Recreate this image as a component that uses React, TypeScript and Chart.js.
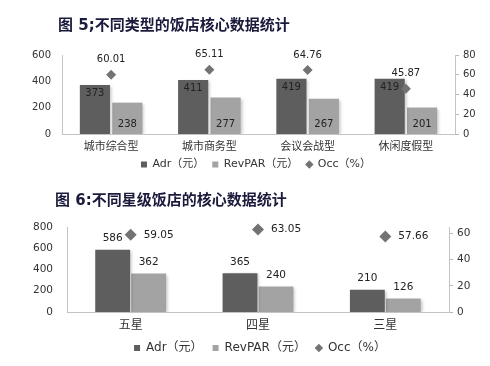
import React, { useEffect, useRef } from "react";
import { Chart, registerables } from "chart.js";

Chart.register(...registerables);

// ---- Chart 1 data ----
const title1 = "图 5;不同类型的饭店核心数据统计";
const categories1 = ["城市综合型", "城市商务型", "会议会战型", "休闲度假型"];
const adr1 = [373, 411, 419, 419];
const revpar1 = [238, 277, 267, 201];
const occ1 = [60.01, 65.11, 64.76, 45.87];

// ---- Chart 2 data ----
const title2 = "图 6:不同星级饭店的核心数据统计";
const categories2 = ["五星", "四星", "三星"];
const adr2 = [586, 365, 210];
const revpar2 = [362, 240, 126];
const occ2 = [59.05, 63.05, 57.66];

const seriesNames = ["Adr（元）", "RevPAR（元）", "Occ（%）"];

const ADR_COLOR = "#5e5e5e";
const REV_COLOR = "#a3a3a3";
const OCC_COLOR = "#737373";
const FONT = "'DejaVu Sans', 'Noto Sans CJK SC', sans-serif";

const shadowPlugin = {
  id: "barShadow",
  beforeDatasetDraw(chart: any, args: any) {
    const ctx = chart.ctx;
    ctx.save();
    if (chart.data.datasets[args.index].type === "bar") {
      ctx.shadowColor = "rgba(0,0,0,0.22)";
      ctx.shadowBlur = 3;
      ctx.shadowOffsetX = 2;
      ctx.shadowOffsetY = 1;
    }
  },
  afterDatasetDraw(chart: any) {
    chart.ctx.restore();
  },
};

function makeLabelPlugin(mode: number, fontSize: number) {
  return {
    id: "valueLabels",
    afterDatasetsDraw(chart: any) {
      const ctx = chart.ctx;
      ctx.save();
      ctx.font = `${fontSize}px ${FONT}`;
      ctx.fillStyle = "#222";
      ctx.textBaseline = "middle";
      chart.data.datasets.forEach((ds: any, di: number) => {
        const meta = chart.getDatasetMeta(di);
        meta.data.forEach((el: any, i: number) => {
          const v = ds.data[i];
          const txt = di === 2 ? v.toFixed(2) : String(v);
          if (mode === 1) {
            ctx.textAlign = "center";
            if (di === 0) ctx.fillText(txt, el.x, el.y + 9);
            else if (di === 1) ctx.fillText(txt, el.x, el.base - 10);
            else ctx.fillText(txt, el.x, el.y - 15);
          } else {
            if (di === 2) {
              ctx.textAlign = "left";
              ctx.fillText(txt, el.x + 13, el.y);
            } else {
              ctx.textAlign = "center";
              ctx.fillText(txt, el.x, el.y - 11);
            }
          }
        });
      });
      ctx.restore();
    },
  };
}

function legendLabels(chart: any) {
  const items = (Chart.defaults.plugins.legend.labels as any).generateLabels(chart);
  items.sort((a: any, b: any) => a.datasetIndex - b.datasetIndex);
  items.forEach((it: any) => {
    it.pointStyle = it.datasetIndex === 2 ? "rectRot" : "rect";
    it.lineWidth = 0;
    it.strokeStyle = "rgba(0,0,0,0)";
  });
  return items;
}

type Cfg = {
  categories: string[];
  adr: number[];
  rev: number[];
  occ: number[];
  mode: number;
  padLeft: number;
  leftW: number;
  rightW: number;
  top: number;
  bottomPad: number;
  xH: number;
  yMax: number;
  yStep: number;
  y2Max: number;
  y2Ticks: number[];
  catPct: number;
  barPct: number;
  pointR: number;
  leftPad: number;
  tickFont: number;
  catFont: number;
  legendFont: number;
  legendPad: number;
  labelFont: number;
};

function makeConfig(c: Cfg): any {
  return {
    data: {
      labels: c.categories,
      datasets: [
        {
          type: "bar",
          label: seriesNames[0],
          data: c.adr,
          backgroundColor: ADR_COLOR,
          yAxisID: "y",
          categoryPercentage: c.catPct,
          barPercentage: c.barPct,
          order: 2,
        },
        {
          type: "bar",
          label: seriesNames[1],
          data: c.rev,
          backgroundColor: REV_COLOR,
          yAxisID: "y",
          categoryPercentage: c.catPct,
          barPercentage: c.barPct,
          order: 2,
        },
        {
          type: "line",
          label: seriesNames[2],
          data: c.occ,
          showLine: false,
          clip: false,
          pointStyle: "rectRot",
          pointRadius: c.pointR,
          pointBackgroundColor: OCC_COLOR,
          pointBorderColor: OCC_COLOR,
          backgroundColor: OCC_COLOR,
          borderColor: OCC_COLOR,
          pointBorderWidth: 0,
          yAxisID: "y2",
          order: 1,
        },
      ],
    },
    options: {
      responsive: false,
      animation: false,
      layout: { padding: { top: c.top, bottom: c.bottomPad, left: c.padLeft, right: 0 } },
      plugins: {
        title: { display: false },
        tooltip: { enabled: false },
        legend: {
          position: "bottom",
          labels: {
            usePointStyle: true,
            boxWidth: 6,
            boxHeight: 6,
            padding: c.legendPad,
            color: "#333",
            font: { family: FONT, size: c.legendFont },
            generateLabels: legendLabels,
          },
        },
      },
      scales: {
        x: {
          grid: { display: false, drawTicks: false },
          border: { display: true, color: "#c4c4c4" },
          ticks: { color: "#333", padding: 7, font: { family: FONT, size: c.catFont } },
          afterFit(s: any) {
            s.height = c.xH;
          },
        },
        y: {
          position: "left",
          min: 0,
          max: c.yMax,
          grid: { display: false, drawTicks: false },
          border: { display: true, color: "#c4c4c4" },
          ticks: { stepSize: c.yStep, color: "#333", padding: c.leftPad, font: { family: FONT, size: c.tickFont } },
          afterFit(s: any) {
            s.width = c.leftW;
          },
        },
        y2: {
          position: "right",
          min: 0,
          max: c.y2Max,
          grid: { display: true, drawOnChartArea: false, drawTicks: true, tickLength: 4, color: "#b8b8b8" },
          border: { display: true, color: "#c4c4c4" },
          ticks: { color: "#333", padding: 4, font: { family: FONT, size: c.tickFont } },
          afterBuildTicks(s: any) {
            s.ticks = c.y2Ticks.map((v) => ({ value: v }));
          },
          afterFit(s: any) {
            s.width = c.rightW;
          },
        },
      },
    },
    plugins: [shadowPlugin, makeLabelPlugin(c.mode, c.labelFont)],
  };
}

function ChartCanvas({ cfg, top, height }: { cfg: Cfg; top: number; height: number }) {
  const ref = useRef<HTMLCanvasElement | null>(null);
  useEffect(() => {
    if (!ref.current) return;
    const chart = new Chart(ref.current, makeConfig(cfg));
    return () => chart.destroy();
  }, []);
  return (
    <canvas
      ref={ref}
      width={490}
      height={height}
      style={{ position: "absolute", left: 0, top, width: 490, height }}
    />
  );
}

const cfg1: Cfg = {
  categories: categories1,
  adr: adr1,
  rev: revpar1,
  occ: occ1,
  mode: 1,
  padLeft: 22,
  leftW: 40,
  rightW: 35,
  top: 55,
  bottomPad: 0,
  xH: 17,
  yMax: 600,
  yStep: 200,
  y2Max: 80,
  y2Ticks: [0, 20, 40, 60, 80],
  catPct: 0.66,
  barPct: 0.93,
  pointR: 5,
  leftPad: 11,
  tickFont: 10,
  catFont: 11,
  legendFont: 11,
  legendPad: 8,
  labelFont: 10,
};

const cfg2: Cfg = {
  categories: categories2,
  adr: adr2,
  rev: revpar2,
  occ: occ2,
  mode: 2,
  padLeft: 30,
  leftW: 37,
  rightW: 41,
  top: 47,
  bottomPad: 2,
  xH: 20,
  yMax: 800,
  yStep: 200,
  y2Max: 65,
  y2Ticks: [0, 20, 40, 60],
  catPct: 0.565,
  barPct: 0.97,
  pointR: 6,
  leftPad: 14,
  tickFont: 10.5,
  catFont: 12,
  legendFont: 12,
  legendPad: 10,
  labelFont: 10.5,
};

const titleStyle: React.CSSProperties = {
  position: "absolute",
  fontFamily: "'DejaVu Sans', 'Noto Sans CJK SC', sans-serif",
  fontWeight: "bold",
  fontSize: 15,
  lineHeight: "20px",
  color: "#1a1a3c",
  whiteSpace: "nowrap",
};

export default function App() {
  return (
    <div style={{ position: "absolute", left: 0, top: 0, width: 490, height: 366, background: "#fff" }}>
      <ChartCanvas cfg={cfg1} top={0} height={180} />
      <ChartCanvas cfg={cfg2} top={180} height={186} />
      <div style={{ ...titleStyle, left: 58, top: 15 }}>{title1}</div>
      <div style={{ ...titleStyle, left: 55, top: 190 }}>{title2}</div>
    </div>
  );
}
